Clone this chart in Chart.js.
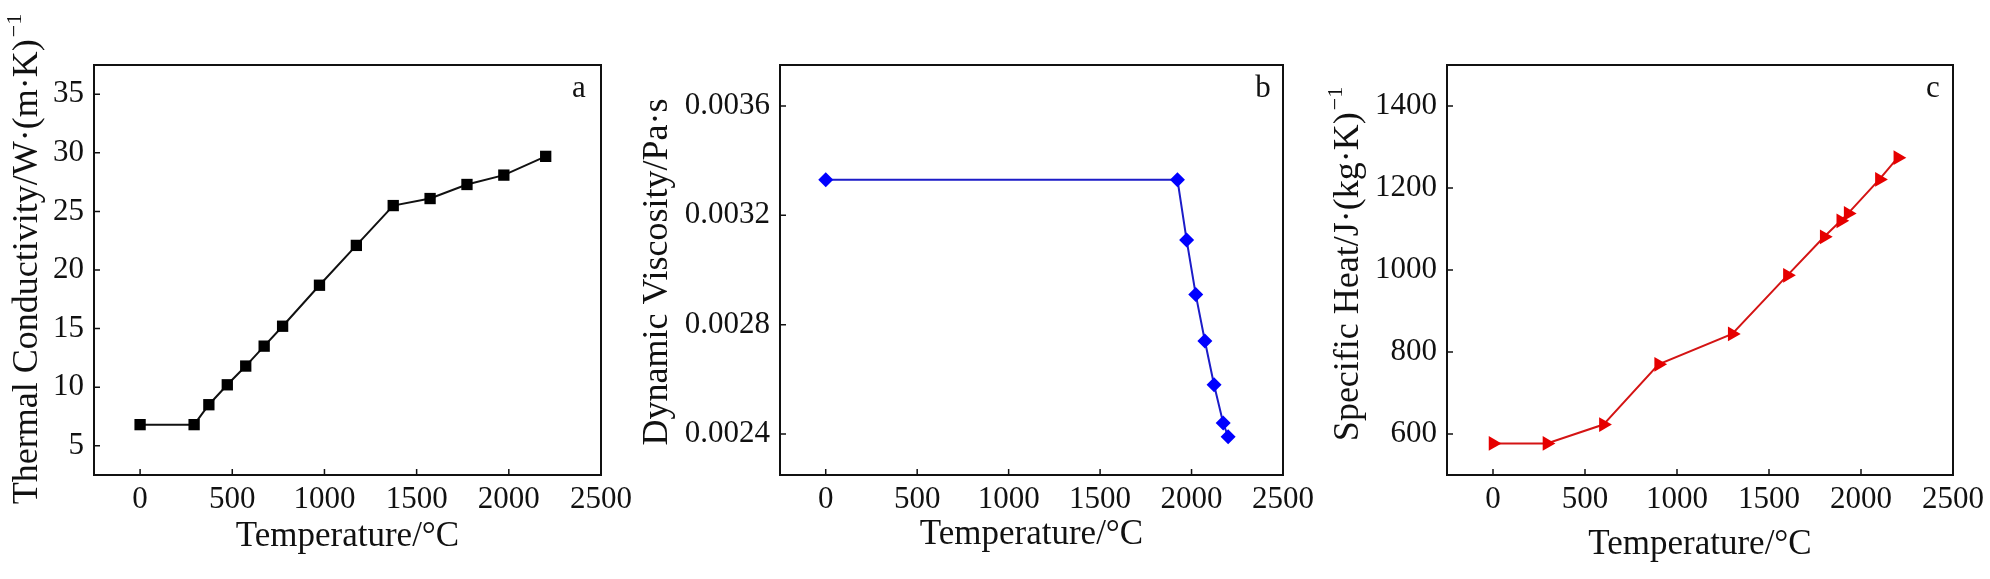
<!DOCTYPE html>
<html>
<head>
<meta charset="utf-8">
<title>Thermophysical properties vs temperature</title>
<script src="https://cdn.jsdelivr.net/npm/chart.js@4.4.1/dist/chart.umd.min.js"></script>
<style>
    html, body { margin: 0; padding: 0; background: #fff; }
    body { width: 1990px; height: 579px; position: relative; overflow: hidden; }
    .panel { position: absolute; top: 0; height: 579px; }
</style>
</head>
<body>
<div class="panel" style="left:0;width:638px"><canvas id="chartA"></canvas></div>
<div class="panel" style="left:630px;width:690px"><canvas id="chartB"></canvas></div>
<div class="panel" style="left:1310px;width:680px"><canvas id="chartC"></canvas></div>

<script>
// Data
const temperatureTicks = [0, 500, 1000, 1500, 2000, 2500];

// a - thermal conductivity
const temperatureA = [0, 293, 373, 473, 573, 673, 773, 973, 1173, 1373, 1573, 1773, 1973, 2200];
const conductivity = [6.8, 6.8, 8.5, 10.2, 11.8, 13.5, 15.2, 18.7, 22.1, 25.5, 26.1, 27.3, 28.1, 29.7];
const conductivityTicks = [5, 10, 15, 20, 25, 30, 35];

// b - dynamic viscosity
const temperatureB = [0, 1923, 1973, 2023, 2073, 2123, 2173, 2200];
const viscosity = [0.00333, 0.00333, 0.00311, 0.00291, 0.00274, 0.00258, 0.00244, 0.00239];
const viscosityTicks = [0.0024, 0.0028, 0.0032, 0.0036];

// c - specific heat
const temperatureC = [0, 293, 600, 900, 1300, 1600, 1800, 1890, 1930, 2100, 2200];
const specificHeat = [577, 577, 623, 770, 844, 987, 1081, 1120, 1138, 1221, 1274];
const specificHeatTicks = [600, 800, 1000, 1200, 1400];

const FONT = "'Liberation Serif', 'Times New Roman', serif";
const INK = '#111';

// Frame, inward ticks, panel letter and y title (with superscript)
const decorPlugin = {
    id: 'decor',
    afterDraw(chart, args, opts) {
        const { ctx, chartArea: a, scales: { x, y } } = chart;
        ctx.save();
        ctx.strokeStyle = INK;
        ctx.lineWidth = 2;
        ctx.strokeRect(a.left, a.top, a.right - a.left, a.bottom - a.top);

        ctx.lineWidth = 1.5;
        ctx.beginPath();
        x.ticks.forEach(t => {
            const px = x.getPixelForValue(t.value);
            ctx.moveTo(px, a.bottom);
            ctx.lineTo(px, a.bottom - 6);
        });
        y.ticks.forEach(t => {
            const py = y.getPixelForValue(t.value);
            ctx.moveTo(a.left, py);
            ctx.lineTo(a.left + 6, py);
        });
        ctx.stroke();

        ctx.fillStyle = INK;
        ctx.font = '31px ' + FONT;
        ctx.textAlign = 'center';
        ctx.textBaseline = 'middle';
        ctx.fillText(opts.letter, a.right - opts.letterDx, a.top + 24);

        // rotated y title
        ctx.translate(opts.titleX, opts.titleY);
        ctx.rotate(-Math.PI / 2);
        ctx.font = '36px ' + FONT;
        const wMain = ctx.measureText(opts.title).width;
        ctx.font = '22px ' + FONT;
        const wSup = opts.sup ? ctx.measureText(opts.sup).width + 2 : 0;
        const start = -(wMain + wSup) / 2;
        ctx.textAlign = 'left';
        ctx.textBaseline = 'alphabetic';
        ctx.font = '36px ' + FONT;
        ctx.fillText(opts.title, start, 12);
        if (opts.sup) {
            ctx.font = '22px ' + FONT;
            ctx.fillText(opts.sup, start + wMain + 2, -4);
        }
        ctx.restore();
    }
};

function makePanel(id, o) {
    const points = o.xs.map((x, i) => ({ x: x, y: o.ys[i] }));
    return new Chart(document.getElementById(id), {
        type: 'line',
        data: {
            datasets: [{
                data: points,
                borderColor: o.lineColor,
                borderWidth: 2,
                tension: 0,
                fill: false,
                pointStyle: o.pointStyle,
                pointRotation: o.pointRotation || 0,
                pointRadius: o.pointRadius,
                pointBackgroundColor: o.pointColor,
                pointBorderColor: o.pointColor,
                pointBorderWidth: 0
            }]
        },
        options: {
            responsive: true,
            maintainAspectRatio: false,
            animation: false,
            layout: { padding: { top: 65, right: o.padRight, bottom: 0, left: 0 } },
            plugins: {
                legend: { display: false },
                tooltip: { enabled: false },
                decor: o.decor
            },
            scales: {
                x: {
                    type: 'linear',
                    min: -250,
                    max: 2500,
                    afterBuildTicks: s => { s.ticks = temperatureTicks.map(v => ({ value: v })); },
                    afterFit: s => { s.height = 104; },
                    grid: { display: false, drawTicks: false },
                    border: { display: false },
                    ticks: {
                        font: { family: FONT, size: 31 },
                        color: INK,
                        padding: 6,
                        maxRotation: 0,
                        autoSkip: false,
                        callback: v => String(v)
                    },
                    title: {
                        display: true,
                        text: 'Temperature/°C',
                        font: { family: FONT, size: 35 },
                        color: INK,
                        padding: { top: 0, bottom: o.xTitlePad }
                    }
                },
                y: {
                    type: 'linear',
                    min: o.yMin,
                    max: o.yMax,
                    afterBuildTicks: s => { s.ticks = o.yTicks.map(v => ({ value: v })); },
                    afterFit: s => { s.width = o.yAxisWidth; },
                    grid: { display: false, drawTicks: false },
                    border: { display: false },
                    ticks: {
                        font: { family: FONT, size: 31 },
                        color: INK,
                        padding: 10,
                        autoSkip: false,
                        callback: o.fmt || (v => String(v))
                    }
                }
            }
        },
        plugins: [decorPlugin]
    });
}

document.addEventListener('DOMContentLoaded', function() {
    makePanel('chartA', {
        xs: temperatureA, ys: conductivity, yTicks: conductivityTicks,
        yMin: 2.5, yMax: 37.5, yAxisWidth: 94, padRight: 34, xTitlePad: 21,
        lineColor: '#111', pointColor: '#000', pointStyle: 'rect', pointRadius: 8,
        decor: { letter: 'a', letterDx: 22, title: 'Thermal Conductivity/W·(m·K)', sup: '−1', titleX: 25, titleY: 259 }
    });

    makePanel('chartB', {
        xs: temperatureB, ys: viscosity, yTicks: viscosityTicks,
        yMin: 0.00225, yMax: 0.00375, yAxisWidth: 150, padRight: 34, xTitlePad: 23,
        lineColor: '#1c1cc8', pointColor: '#0000ff', pointStyle: 'rectRot', pointRadius: 7.5,
        fmt: v => v.toFixed(4),
        decor: { letter: 'b', letterDx: 20, title: 'Dynamic Viscosity/Pa·s', sup: '', titleX: 25, titleY: 272 }
    });

    makePanel('chartC', {
        xs: temperatureC, ys: specificHeat, yTicks: specificHeatTicks,
        yMin: 500, yMax: 1500, yAxisWidth: 137, padRight: 36, xTitlePad: 13,
        lineColor: '#d41414', pointColor: '#e60000', pointStyle: 'triangle', pointRotation: 90, pointRadius: 8.5,
        decor: { letter: 'c', letterDx: 20, title: 'Specific Heat/J·(kg·K)', sup: '−1', titleX: 36, titleY: 264 }
    });
});
</script>
</body>
</html>
